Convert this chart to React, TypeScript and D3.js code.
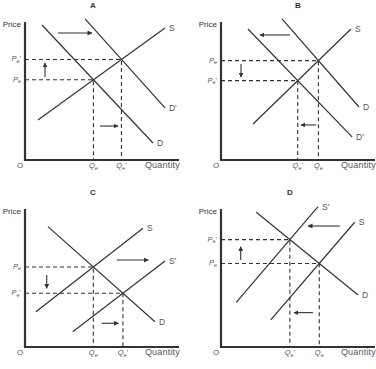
import React from "react";
import * as d3 from "d3";

type Pt = [number, number];
interface Curve {
  label: string;
  from: Pt;
  to: Pt;
}

// all values in (quantity, price) units, axes run 0..10
const panelNames = ["A", "B", "C", "D"];

const curvesA: Curve[] = [
  { label: "S", from: [0.84, 2.9], to: [9.09, 9.57] },
  { label: "D", from: [1.1, 9.78], to: [8.31, 1.23] },
  { label: "D'", from: [3.9, 10.22], to: [9.09, 3.77] },
];
const curvesB: Curve[] = [
  { label: "S", from: [2.08, 2.61], to: [8.44, 9.49] },
  { label: "D", from: [3.96, 10.22], to: [8.96, 3.84] },
  { label: "D'", from: [1.75, 9.49], to: [8.51, 1.67] },
];
const curvesC: Curve[] = [
  { label: "S", from: [0.71, 2.56], to: [7.66, 8.6] },
  { label: "S'", from: [3.1, 1.11], to: [9.09, 6.23] },
  { label: "D", from: [1.49, 8.72], to: [8.44, 1.83] },
];
const curvesD: Curve[] = [
  { label: "S", from: [3.23, 1.96], to: [8.68, 9.04] },
  { label: "S'", from: [0.99, 3.24], to: [6.3, 10.17] },
  { label: "D", from: [2.29, 9.76], to: [8.9, 3.77] },
];

// [curve i, curve j, prime mark] -> equilibrium labels Pe / Qe
const equilibriaA: [number, number, string][] = [[0, 1, ""], [0, 2, "'"]];
const equilibriaB: [number, number, string][] = [[0, 1, ""], [0, 2, "'"]];
const equilibriaC: [number, number, string][] = [[0, 2, ""], [1, 2, "'"]];
const equilibriaD: [number, number, string][] = [[0, 2, ""], [1, 2, "'"]];

// shift arrows: [q1, p1, q2, p2]
const arrowsA = [[2.14, 9.2, 4.35, 9.2], [4.87, 2.46, 6.04, 2.46], [1.3, 6.01, 1.3, 7.03]];
const arrowsB = [[4.48, 9.06, 2.53, 9.06], [6.17, 2.54, 5.19, 2.54], [1.3, 6.96, 1.3, 6.01]];
const arrowsC = [[5.95, 6.3, 8.01, 6.3], [4.98, 1.72, 6.06, 1.72], [1.41, 5.22, 1.41, 4.25]];
const arrowsD = [[7.71, 8.77, 5.65, 8.77], [5.97, 2.49, 4.74, 2.49], [1.28, 6.3, 1.28, 7.27]];

const panelCurves = [curvesA, curvesB, curvesC, curvesD];
const panelEquilibria = [equilibriaA, equilibriaB, equilibriaC, equilibriaD];
const panelArrows = [arrowsA, arrowsB, arrowsC, arrowsD];

// axis origin of each panel, and where its title letter sits
const origins: Pt[] = [[25, 160], [221, 160], [25, 347], [221, 347]];
const titleDx = [68, 77, 68, 69];

const font = "'Liberation Sans', Arial, sans-serif";
const ink = "#333";
const textInk = "#555";

const x = d3.scaleLinear().domain([0, 10]).range([0, 154]);
const y = d3.scaleLinear().domain([0, 10]).range([0, -138]);
const line = d3
  .line<Pt>()
  .x((d) => x(d[0]))
  .y((d) => y(d[1]));

function intersect(a: Curve, b: Curve): Pt {
  const s1 = (a.to[1] - a.from[1]) / (a.to[0] - a.from[0]);
  const s2 = (b.to[1] - b.from[1]) / (b.to[0] - b.from[0]);
  const q = (b.from[1] - a.from[1] + s1 * a.from[0] - s2 * b.from[0]) / (s1 - s2);
  return [q, a.from[1] + s1 * (q - a.from[0])];
}

const Sub = ({ base, prime }: { base: string; prime: string }) => (
  <>
    <tspan fontStyle="italic">{base}</tspan>
    <tspan fontSize={5.5} dy={1.5}>e</tspan>
    <tspan dy={-1.5}>{prime}</tspan>
  </>
);

const Panel = ({ idx }: { idx: number }) => {
  const [ox, oy] = origins[idx];
  const curves = panelCurves[idx];
  const eqs = panelEquilibria[idx].map(([i, j, prime]) => ({
    pt: intersect(curves[i], curves[j]),
    prime,
  }));
  return (
    <g transform={`translate(${ox},${oy})`} fontFamily={font}>
      <text x={titleDx[idx]} y={-152} textAnchor="middle" fontSize={8} fontWeight="bold" fill={ink}>
        {panelNames[idx]}
      </text>
      <text x={-4} y={-133} textAnchor="end" fontSize={8} fill={ink}>
        Price
      </text>
      <text x={-5} y={8} textAnchor="middle" fontSize={8} fill={textInk}>
        O
      </text>
      <text x={x(10) + 1} y={8} textAnchor="end" fontSize={9} letterSpacing={0.2} fill={textInk}>
        Quantity
      </text>

      {eqs.map(({ pt, prime }, k) => (
        <g key={k}>
          <path
            d={`M${x(0)},${y(pt[1])}H${x(pt[0])}V${y(0)}`}
            fill="none"
            stroke={ink}
            strokeWidth={1.1}
            strokeDasharray="4,3"
          />
          <text x={-4} y={y(pt[1]) + 2} textAnchor="end" fontSize={7.5} fill={textInk}>
            <Sub base="P" prime={prime} />
          </text>
          <text x={x(pt[0])} y={8} textAnchor="middle" fontSize={7.5} fill={textInk}>
            <Sub base="Q" prime={prime} />
          </text>
        </g>
      ))}

      {curves.map((c, k) => (
        <g key={k}>
          <path d={line([c.from, c.to]) ?? ""} stroke={ink} strokeWidth={1.2} fill="none" />
          <text
            x={x(c.to[0]) + 4}
            y={y(c.to[1]) + 3}
            fontSize={8.5}
            fill={textInk}
          >
            {c.label}
          </text>
        </g>
      ))}

      {panelArrows[idx].map((a, k) => (
        <line
          key={k}
          x1={x(a[0])}
          y1={y(a[1])}
          x2={x(a[2])}
          y2={y(a[3])}
          stroke={ink}
          strokeWidth={1.1}
          markerEnd="url(#head)"
        />
      ))}

      <path
        d={`M${x(0)},${y(10)}V${y(0)}H${x(10)}`}
        fill="none"
        stroke={ink}
        strokeWidth={2.2}
      />
    </g>
  );
};

export default function App() {
  return (
    <svg
      width={376}
      height={369}
      style={{ position: "absolute", left: 0, top: 0, background: "#fff" }}
    >
      <defs>
        <marker
          id="head"
          viewBox="0 0 10 10"
          refX={9}
          refY={5}
          markerWidth={5}
          markerHeight={5}
          markerUnits="userSpaceOnUse"
          orient="auto"
        >
          <path d="M0,0L10,5L0,10Z" fill={ink} />
        </marker>
      </defs>
      {panelNames.map((_, i) => (
        <Panel key={i} idx={i} />
      ))}
    </svg>
  );
}
